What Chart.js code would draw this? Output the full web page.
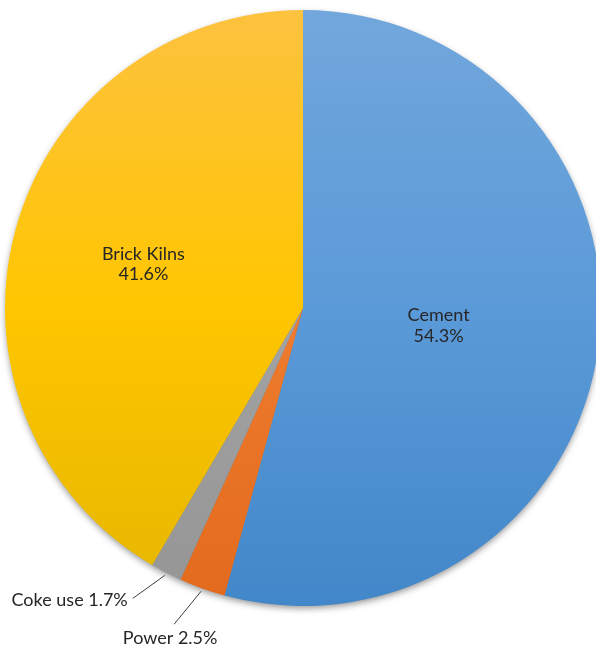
<!DOCTYPE html>
<html>
<head>
<meta charset="utf-8">
<script src="https://cdn.jsdelivr.net/npm/chart.js@4"></script>
<style>
  html, body { margin: 0; padding: 0; background: #fff; overflow: hidden; }
  #wrap { position: absolute; left: 0; top: 0; width: 606px; height: 647px; }
</style>
</head>
<body>
<div id="wrap"><canvas id="c"></canvas></div>
<script>
const categories = ['Cement', 'Power', 'Coke use', 'Brick Kilns'];
const shares = [54.3, 2.5, 1.7, 41.6];
const shareLabels = ['54.3%', '2.5%', '1.7%', '41.6%'];

const gradStops = [
  ['#71a7dc', '#5b9ad8', '#4287c9'],
  ['#f28e44', '#ee7c2f', '#e36a1c'],
  ['#acacac', '#a3a3a3', '#959595'],
  ['#fdc23f', '#ffc600', '#e5b600']
];

const FONT = '18px Lato';

function makeGrad(ctx, area, i) {
  const g = ctx.createLinearGradient(0, area.top, 0, area.bottom);
  g.addColorStop(0, gradStops[i][0]);
  g.addColorStop(0.5, gradStops[i][1]);
  g.addColorStop(1, gradStops[i][2]);
  return g;
}

const shadowPlugin = {
  id: 'shadow',
  beforeDatasetsDraw(chart) {
    const arc = chart.getDatasetMeta(0).data[0];
    if (!arc) return;
    const { x, y, outerRadius } = arc.getProps(['x', 'y', 'outerRadius'], true);
    const ctx = chart.ctx;
    ctx.save();
    ctx.shadowColor = 'rgba(0,0,0,0.45)';
    ctx.shadowBlur = 7;
    ctx.shadowOffsetY = 3;
    ctx.fillStyle = '#777';
    ctx.beginPath();
    ctx.arc(x, y, outerRadius - 1, 0, Math.PI * 2);
    ctx.fill();
    ctx.restore();
  }
};

const inside = { 0: 0.459, 3: 0.555 };
const outside = { 1: { dx: -27, dy: 33 }, 2: { dx: -32, dy: 23 } };

const labelPlugin = {
  id: 'pieLabels',
  afterDatasetsDraw(chart) {
    const ctx = chart.ctx;
    const meta = chart.getDatasetMeta(0);
    ctx.save();
    ctx.font = FONT;
    ctx.fillStyle = '#262626';
    meta.data.forEach((arc, i) => {
      const p = arc.getProps(['x', 'y', 'startAngle', 'endAngle', 'outerRadius'], true);
      const mid = (p.startAngle + p.endAngle) / 2;
      if (inside[i] !== undefined) {
        const r = p.outerRadius * inside[i];
        const cx = p.x + Math.cos(mid) * r;
        const cy = p.y + Math.sin(mid) * r;
        ctx.textAlign = 'center';
        ctx.textBaseline = 'alphabetic';
        ctx.fillText(categories[i], cx, cy - 5);
        ctx.fillText(shareLabels[i], cx, cy + 15.5);
      } else if (outside[i]) {
        const sx = p.x + Math.cos(mid) * (p.outerRadius + 3);
        const sy = p.y + Math.sin(mid) * (p.outerRadius + 3);
        const ex = sx + outside[i].dx;
        const ey = sy + outside[i].dy;
        ctx.strokeStyle = '#404040';
        ctx.lineWidth = 1;
        ctx.beginPath();
        ctx.moveTo(sx, sy);
        ctx.lineTo(ex, ey);
        ctx.stroke();
        const txt = categories[i] + ' ' + shareLabels[i];
        if (i === 2) {
          ctx.textAlign = 'right';
          ctx.textBaseline = 'alphabetic';
          ctx.fillText(txt, ex - 5, ey + 7.5);
        } else {
          ctx.textAlign = 'center';
          ctx.textBaseline = 'alphabetic';
          ctx.fillText(txt, ex - 4, ey + 20);
        }
      }
    });
    ctx.restore();
  }
};

new Chart(document.getElementById('c'), {
  type: 'pie',
  data: {
    labels: categories,
    datasets: [{
      data: shares,
      backgroundColor: (c) => {
        const area = c.chart.chartArea;
        if (!area) return gradStops[c.dataIndex][1];
        return makeGrad(c.chart.ctx, area, c.dataIndex);
      },
      borderWidth: 0,
      hoverOffset: 0
    }]
  },
  options: {
    responsive: true,
    maintainAspectRatio: false,
    animation: false,
    layout: { padding: { top: 10, bottom: 41, left: 0, right: 0 } },
    plugins: {
      legend: { display: false },
      tooltip: { enabled: false }
    }
  },
  plugins: [shadowPlugin, labelPlugin]
});
</script>
</body>
</html>
